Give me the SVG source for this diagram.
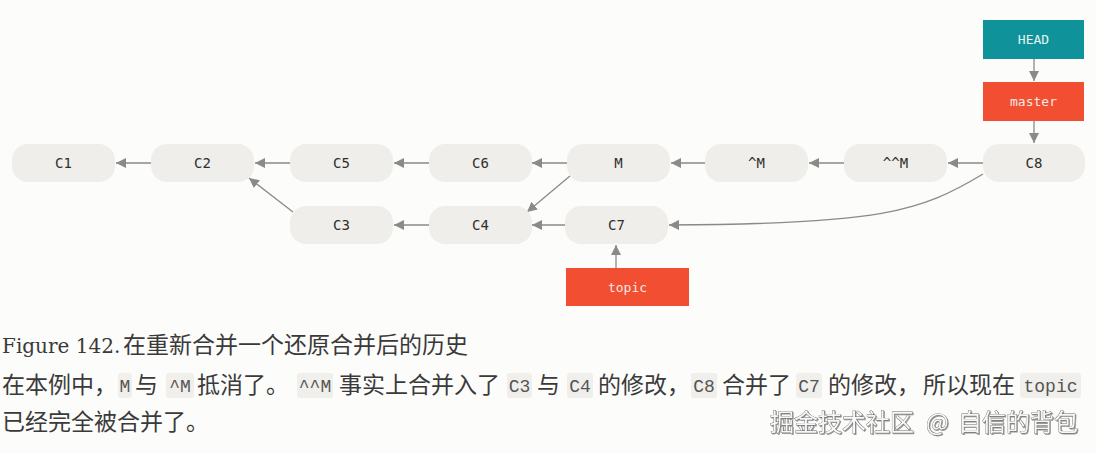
<svg xmlns="http://www.w3.org/2000/svg" width="1096" height="453" viewBox="0 0 1096 453">
<defs>
<style>
.bg{fill:#fcfcfa}
.commit rect{fill:#efeeea}
.commit text{font-family:"DejaVu Sans Mono","Liberation Mono",monospace;font-size:14px;fill:#2e2e2e;text-anchor:middle}
.ref text{font-family:"DejaVu Sans Mono","Liberation Mono",monospace;font-size:13px;fill:#fbe9e3;text-anchor:middle}
.head rect{fill:#0f9299}
.head text{fill:#e6f4f4}
.branch rect{fill:#f14e32}
.edge{stroke:#8a8a87;stroke-width:1.3;fill:none;marker-end:url(#arr)}
.cn{font-family:"Noto Sans CJK SC","Liberation Sans",sans-serif;font-size:23px;fill:#3a3a3a}
.fig{font-family:"DejaVu Serif","Liberation Serif",serif;font-size:20px;fill:#3a3a3a}
.code{font-family:"Liberation Mono","DejaVu Sans Mono",monospace;font-size:18px;fill:#555;text-anchor:middle}
.cbox{fill:#f0efeb}
.wm{font-family:"Noto Sans CJK SC",sans-serif;font-size:24px;fill:#f7f7f7;stroke:#6b6b6b;stroke-width:0.8;paint-order:stroke;filter:url(#sh)}
</style>
<marker id="arr" viewBox="0 0 10 10" refX="10" refY="5" markerWidth="10" markerHeight="10" markerUnits="userSpaceOnUse" orient="auto">
<path d="M0,0 L10,5 L0,10 z" fill="#8a8a87"/>
</marker>
<filter id="sh" x="-5%" y="-20%" width="110%" height="150%">
<feDropShadow dx="1" dy="1" stdDeviation="0.6" flood-color="#555" flood-opacity="0.6"/>
</filter>
</defs>
<rect class="bg" x="0" y="0" width="1096" height="453"/>

<g id="connectors">
<line class="edge" x1="151" y1="163" x2="116" y2="163"/>
<line class="edge" x1="290" y1="163" x2="255" y2="163"/>
<line class="edge" x1="429" y1="163" x2="394" y2="163"/>
<line class="edge" x1="567" y1="163" x2="532" y2="163"/>
<line class="edge" x1="705" y1="163" x2="671" y2="163"/>
<line class="edge" x1="844" y1="163" x2="809" y2="163"/>
<line class="edge" x1="983" y1="163" x2="948" y2="163"/>
<line class="edge" x1="293" y1="212" x2="249" y2="178"/>
<line class="edge" x1="570" y1="176" x2="527" y2="212"/>
<line class="edge" x1="429" y1="225" x2="394" y2="225"/>
<line class="edge" x1="565" y1="225" x2="532" y2="225"/>
<path class="edge" d="M983,174 C920,212 880,224 669,225"/>
<line class="edge" x1="1034" y1="59" x2="1034" y2="81"/>
<line class="edge" x1="1034" y1="121" x2="1034" y2="143"/>
<line class="edge" x1="616" y1="268" x2="616" y2="245"/>
</g>

<g id="C1" class="commit"><rect x="12" y="144" width="103" height="38" rx="16"/><text x="63.5" y="168">C1</text></g>
<g id="C2" class="commit"><rect x="151" y="144" width="103" height="38" rx="16"/><text x="202.5" y="168">C2</text></g>
<g id="C5" class="commit"><rect x="290" y="144" width="103" height="38" rx="16"/><text x="341.5" y="168">C5</text></g>
<g id="C6" class="commit"><rect x="429" y="144" width="103" height="38" rx="16"/><text x="480.5" y="168">C6</text></g>
<g id="M" class="commit"><rect x="567" y="144" width="103" height="38" rx="16"/><text x="618.5" y="168">M</text></g>
<g id="M1" class="commit"><rect x="705" y="144" width="103" height="38" rx="16"/><text x="756.5" y="168">^M</text></g>
<g id="M2" class="commit"><rect x="844" y="144" width="103" height="38" rx="16"/><text x="895.5" y="168">^^M</text></g>
<g id="C8" class="commit"><rect x="983" y="144" width="102" height="38" rx="16"/><text x="1034" y="168">C8</text></g>
<g id="C3" class="commit"><rect x="290" y="206" width="103" height="38" rx="16"/><text x="341.5" y="230">C3</text></g>
<g id="C4" class="commit"><rect x="429" y="206" width="103" height="38" rx="16"/><text x="480.5" y="230">C4</text></g>
<g id="C7" class="commit"><rect x="565" y="206" width="103" height="38" rx="16"/><text x="616.5" y="230">C7</text></g>

<g id="HEAD" class="ref head"><rect x="983" y="20" width="101" height="39"/><text x="1033.5" y="44">HEAD</text></g>
<g id="master" class="ref branch"><rect x="983" y="82" width="101" height="39"/><text x="1033.5" y="106">master</text></g>
<g id="topic" class="ref branch"><rect x="566" y="268" width="123" height="38"/><text x="627.5" y="292">topic</text></g>

<g id="caption">
<text class="fig" x="2" y="353">Figure 142.</text>
<text class="cn" x="123" y="353">在重新合并一个还原合并后的历史</text>
</g>

<g id="body">
<rect class="cbox" x="118" y="373" width="14" height="25" rx="3"/>
<rect class="cbox" x="166" y="373" width="28" height="25" rx="3"/>
<rect class="cbox" x="297" y="373" width="36" height="25" rx="3"/>
<rect class="cbox" x="507" y="373" width="25" height="25" rx="3"/>
<rect class="cbox" x="567" y="373" width="26" height="25" rx="3"/>
<rect class="cbox" x="691" y="373" width="26" height="25" rx="3"/>
<rect class="cbox" x="796" y="373" width="26" height="25" rx="3"/>
<rect class="cbox" x="1020" y="373" width="61" height="25" rx="3"/>
<text class="cn" y="393"><tspan x="2">在本例中，</tspan><tspan x="135">与</tspan><tspan x="197">抵消了。</tspan><tspan x="339">事实上合并入了</tspan><tspan x="537">与</tspan><tspan x="598">的修改，</tspan><tspan x="722">合并了</tspan><tspan x="828">的修改，</tspan><tspan x="923">所以现在</tspan></text>
<text class="code" y="392"><tspan x="125">M</tspan><tspan x="180">^M</tspan><tspan x="315">^^M</tspan><tspan x="519.5">C3</tspan><tspan x="580">C4</tspan><tspan x="704">C8</tspan><tspan x="809">C7</tspan><tspan x="1050.5">topic</tspan></text>
<text class="cn" x="2" y="430">已经完全被合并了。</text>
</g>

<text class="wm" y="431"><tspan x="770">掘金技术社区</tspan><tspan x="926">@</tspan><tspan x="958">自信的背包</tspan></text>
</svg>
